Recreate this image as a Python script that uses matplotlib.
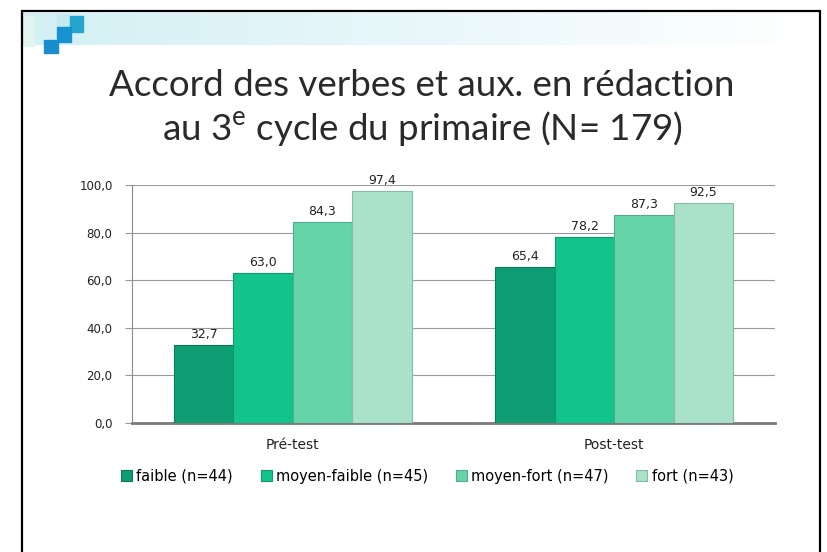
import numpy as np
import matplotlib
matplotlib.use("Agg")
import matplotlib.pyplot as plt
from matplotlib.patches import Rectangle

# data
categories = ["Pré-test", "Post-test"]
series = ["faible (n=44)", "moyen-faible (n=45)", "moyen-fort (n=47)", "fort (n=43)"]
faible = [32.7, 65.4]
moyen_faible = [63.0, 78.2]
moyen_fort = [84.3, 87.3]
fort = [97.4, 92.5]
yticks = [0, 20, 40, 60, 80, 100]

colors = ["#0f9e74", "#12c48c", "#66d4a9", "#a9e2c9"]
edges = ["#0b7a58", "#0e9a6d", "#4fae89", "#84bba4"]

W, H = 827, 552
fig = plt.figure(figsize=(W / 100, H / 100), dpi=100)
fig.patch.set_facecolor("white")


def fx(px):
    return px / W


def fy(py):
    return 1 - py / H


# header band (light cyan fading out to the right)
band = fig.add_axes([fx(23), fy(45), fx(810) - fx(23), fy(13) - fy(45)])
grad = np.linspace(0, 1, 256)[None, :]
cmap = matplotlib.colors.LinearSegmentedColormap.from_list("b", ["#d3f0f4", "#e9f7fa", "#ffffff"])
band.imshow(grad, aspect="auto", cmap=cmap, extent=[0, 1, 0, 1])
band.set_axis_off()

# little blue squares in the corner
for x0, y0, sw, sh, c in [(24, 16, 10, 30, "#e2f4ef"), (57, 14, 13, 12, "#c4e9f0"),
                          (70, 16, 13, 16, "#25a5cb"), (57, 27, 14, 15, "#1592cf"),
                          (44, 40, 14, 13, "#1a8dcd")]:
    fig.patches.append(Rectangle((fx(x0), fy(y0 + sh)), fx(sw), fy(0) - fy(sh),
                                 transform=fig.transFigure, color=c, zorder=3))

# slide border
fig.patches.append(Rectangle((fx(22), fy(560)), fx(820) - fx(22), fy(11) - fy(560),
                             transform=fig.transFigure, fill=False, ec="black", lw=1.6, zorder=4))

fig.text(fx(422), fy(86), "Accord des verbes et aux. en rédaction", ha="center", va="center",
         fontsize=26.5, family="Lato", color="#2a2a2a")
fig.text(fx(422), fy(129), "au 3$^{\\mathregular{e}}$ cycle du primaire (N= 179)", ha="center", va="center",
         fontsize=26.5, family="Lato", color="#2a2a2a")

ax = fig.add_axes([fx(132), fy(423), fx(775) - fx(132), fy(185) - fy(423)])
x = np.arange(len(categories))
w = 0.185
vals = [faible, moyen_faible, moyen_fort, fort]
for i, (name, v) in enumerate(zip(series, vals)):
    pos = x + (i - 1.5) * w
    bars = ax.bar(pos, v, w, color=colors[i], edgecolor=edges[i], lw=0.8, label=name, zorder=3)
    for b, val in zip(bars, v):
        ax.text(b.get_x() + b.get_width() / 2, val + 1.8, f"{val:.1f}".replace(".", ","),
                ha="center", va="bottom", fontsize=9, color="#222222", zorder=4)

ax.set_xlim(-0.5, 1.5)
ax.set_ylim(0, 100)
ax.set_yticks(yticks)
ax.set_yticklabels([f"{t:.1f}".replace(".", ",") for t in yticks], fontsize=8.5, color="#222222")
ax.set_xticks(x)
ax.set_xticklabels(categories, fontsize=10, color="#222222")
ax.tick_params(axis="x", length=0, pad=11)
ax.tick_params(axis="y", length=5, color="#999999", width=0.8, pad=9)
ax.grid(axis="y", color="#9a9a9a", lw=0.8, zorder=0)
for s in ["top", "right"]:
    ax.spines[s].set_visible(False)
ax.spines["left"].set_color("#8a8a8a")
ax.spines["bottom"].set_color("#7a7a7a")
ax.spines["bottom"].set_linewidth(2)

ax.legend(loc="center", bbox_to_anchor=(0.459, -0.223), ncol=4, frameon=False, fontsize=10.5,
          handlelength=0.75, handleheight=0.75, handletextpad=0.3, columnspacing=1.9)

fig.savefig("out.png", dpi=100)
